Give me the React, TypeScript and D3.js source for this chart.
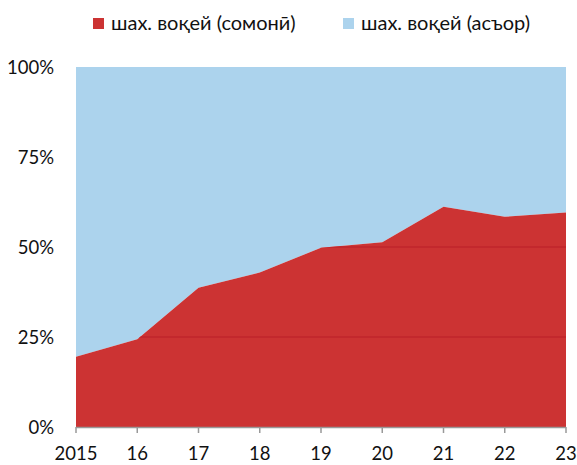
import { useEffect, useRef } from "react";
import * as d3 from "d3";

const years = ["2015", "16", "17", "18", "19", "20", "21", "22", "23"];
const somoniShare = [19.5, 24.4, 38.7, 42.9, 49.8, 51.3, 61.2, 58.4, 59.6];
const yTicks = [0, 25, 50, 75, 100];
const legendLabels = ["шах. воқей (сомонӣ)", "шах. воқей (асъор)"];
const colors = ["#cc3333", "#acd3ed"];

const App = () => {
  const svgRef = useRef<SVGSVGElement>(null);

  useEffect(() => {
    const svg = d3.select(svgRef.current);
    svg.selectAll("*").remove();

    const margin = { top: 67, right: 11, bottom: 38, left: 76 };
    const width = 577 - margin.left - margin.right;
    const height = 465 - margin.top - margin.bottom;
    const font = "Lato, 'Open Sans', sans-serif";

    const x = d3
      .scalePoint()
      .domain(years)
      .range([0, width]);
    const y = d3.scaleLinear().domain([0, 100]).range([height, 0]);

    const g = svg
      .append("g")
      .attr("transform", `translate(${margin.left},${margin.top})`);

    const data = years.map((yr, i) => ({ yr, v: somoniShare[i] }));

    // foreign currency part fills the rest up to 100%
    g.append("path")
      .datum(data)
      .attr("fill", colors[1])
      .attr(
        "d",
        d3
          .area<{ yr: string; v: number }>()
          .x((d) => x(d.yr)!)
          .y0((d) => y(d.v))
          .y1(y(100))
      );

    const redArea = d3
      .area<{ yr: string; v: number }>()
      .x((d) => x(d.yr)!)
      .y0(height)
      .y1((d) => y(d.v));

    g.append("clipPath")
      .attr("id", "redClip")
      .append("path")
      .datum(data)
      .attr("d", redArea);

    g.append("path").datum(data).attr("fill", colors[0]).attr("d", redArea);

    g.append("g")
      .attr("clip-path", "url(#redClip)")
      .selectAll("line")
      .data(yTicks.filter((t) => t > 0 && t < 100))
      .enter()
      .append("line")
      .attr("x1", 0)
      .attr("x2", width)
      .attr("y1", (d) => y(d))
      .attr("y2", (d) => y(d))
      .attr("stroke", "#c0262d")
      .attr("stroke-width", 1.5);

    // y labels
    g.selectAll(".ylab")
      .data(yTicks)
      .enter()
      .append("text")
      .attr("x", -22)
      .attr("y", (d) => y(d))
      .attr("dy", "0.36em")
      .attr("text-anchor", "end")
      .attr("font-family", font)
      .attr("font-size", 18.5)
      .attr("fill", "#111")
      .text((d) => `${d}%`);

    // x axis
    g.append("line")
      .attr("x1", 0)
      .attr("x2", width)
      .attr("y1", height + 0.5)
      .attr("y2", height + 0.5)
      .attr("stroke", "#999")
      .attr("stroke-width", 1.5);

    g.selectAll(".xtick")
      .data(years)
      .enter()
      .append("line")
      .attr("x1", (d) => x(d)!)
      .attr("x2", (d) => x(d)!)
      .attr("y1", height)
      .attr("y2", height + 6)
      .attr("stroke", "#999")
      .attr("stroke-width", 1.5);

    g.selectAll(".xlab")
      .data(years)
      .enter()
      .append("text")
      .attr("x", (d) => x(d)!)
      .attr("y", height + 33)
      .attr("text-anchor", "middle")
      .attr("font-family", font)
      .attr("font-size", 18.5)
      .attr("fill", "#111")
      .text((d) => d);

    // legend
    const legendX = [93, 343];
    legendLabels.forEach((label, i) => {
      svg
        .append("rect")
        .attr("x", legendX[i])
        .attr("y", 18)
        .attr("width", 11)
        .attr("height", 11)
        .attr("fill", colors[i]);
      svg
        .append("text")
        .attr("x", legendX[i] + 18)
        .attr("y", 30)
        .attr("font-family", font)
        .attr("font-size", 20)
        .attr("fill", "#111")
        .text(label);
    });
  }, []);

  return (
    <svg
      ref={svgRef}
      width={577}
      height={465}
      style={{ position: "absolute", left: 0, top: 0, background: "#fff" }}
    ></svg>
  );
};

export default App;
